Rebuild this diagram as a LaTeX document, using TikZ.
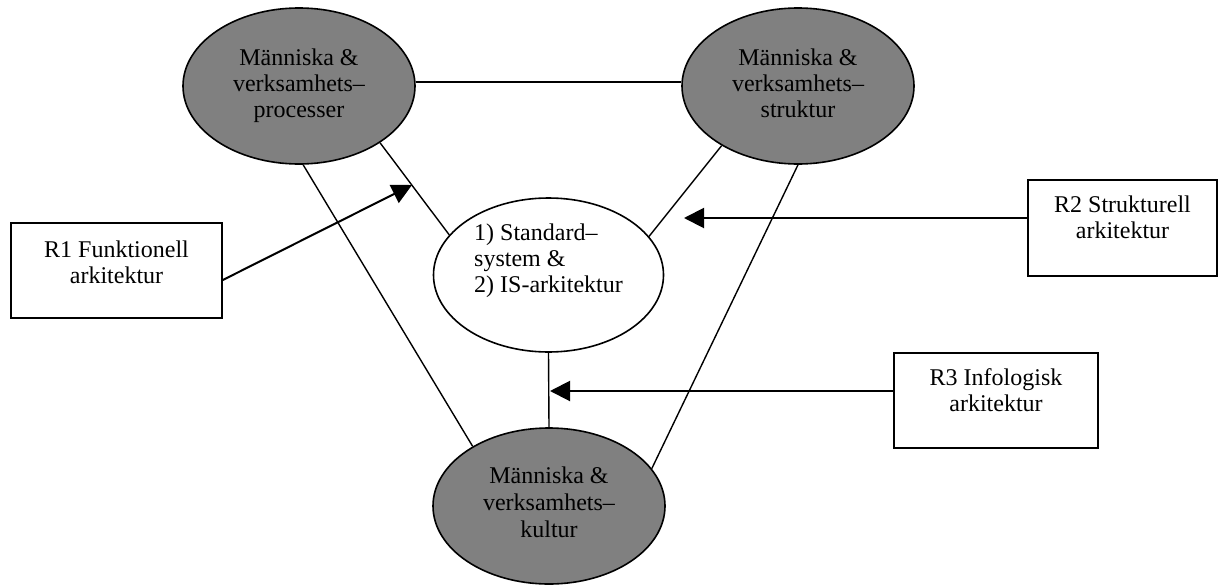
\documentclass[tikz,border=0pt]{standalone}
\usepackage{fontspec}
\setmainfont{Liberation Serif}
\usetikzlibrary{shapes.geometric,arrows.meta}
\definecolor{roleGray}{RGB}{128,128,128}
% extra depth under the last line, to lift a text block slightly
\newcommand{\liftby}[1]{\rule[-#1]{0pt}{#1}}
\begin{document}
\begin{tikzpicture}[x=1pt,y=-1pt,
  every node/.style={font=\fontsize{24}{26}\selectfont},
  role/.style={ellipse,draw,line width=1.6pt,fill=roleGray,minimum width=232pt,minimum height=156pt,inner sep=0pt,align=center},
  core/.style={ellipse,draw,line width=1.6pt,fill=white,minimum width=230pt,minimum height=154pt,inner sep=0pt},
  viewbox/.style={rectangle,draw,line width=1.6pt,inner sep=0pt},
  caption/.style={align=center,inner sep=0pt},
  corecaption/.style={align=left,inner sep=0pt},
  link/.style={line width=1.4pt},
  feed/.style={line width=2pt,-{Triangle[length=20pt,width=20pt]}}
]
\useasboundingbox (0,0) rectangle (1218,584);

% the three human/organisation ellipses
\node[role] (proc) at (299,86) {Människa \&\\verksamhets–\\processer\liftby{6pt}};
\node[role] (stru) at (798,86) {Människa \&\\verksamhets–\\struktur\liftby{6pt}};
\node[role] (kult) at (549,506) {Människa \&\\[1pt]verksamhets–\\[1pt]kultur\liftby{8pt}};

% the central system ellipse
\node[core] (core) at (548.5,275) {};
\node[corecaption] (coretext) at ([yshift=14pt]core.center) {1) Standard–\\system \&\\2) IS-arkitektur};

% the three architecture boxes
\node[viewbox,minimum width=211pt,minimum height=95pt] (r1) at (116.5,270.5) {};
\node[caption] (r1text) at ([yshift=8.5pt]r1.center) {R1 Funktionell\\arkitektur};
\node[viewbox,minimum width=189pt,minimum height=96pt] (r2) at (1122.5,228) {};
\node[caption] (r2text) at ([yshift=10.5pt]r2.center) {R2 Strukturell\\arkitektur};
\node[viewbox,minimum width=204pt,minimum height=95pt] (r3) at (996,400.5) {};
\node[caption] (r3text) at ([yshift=10.5pt]r3.center) {R3 Infologisk\\arkitektur};

% triangle of connections between the ellipses
\draw[link] (proc.2) -- (stru.178);
\draw[link] (proc.-87) -- (kult.142.5);
\draw[link] (stru.-90) -- (kult.20.6);
\draw[link] (proc.-35.3) -- (core.158);
\draw[link] (stru.-142.2) -- (core.21.7);
\draw[link] (core.south) -- (kult.north);

% arrows from the architecture boxes
\coordinate (r1tip) at (412,185);
\coordinate (r2tip) at (684,218);
\coordinate (r3tip) at (550,391);
\draw[feed] ([yshift=-9.5pt]r1.east) -- (r1tip);
\draw[feed] ([yshift=10pt]r2.west) -- (r2tip);
\draw[feed] ([yshift=9.5pt]r3.west) -- (r3tip);
\end{tikzpicture}
\end{document}
